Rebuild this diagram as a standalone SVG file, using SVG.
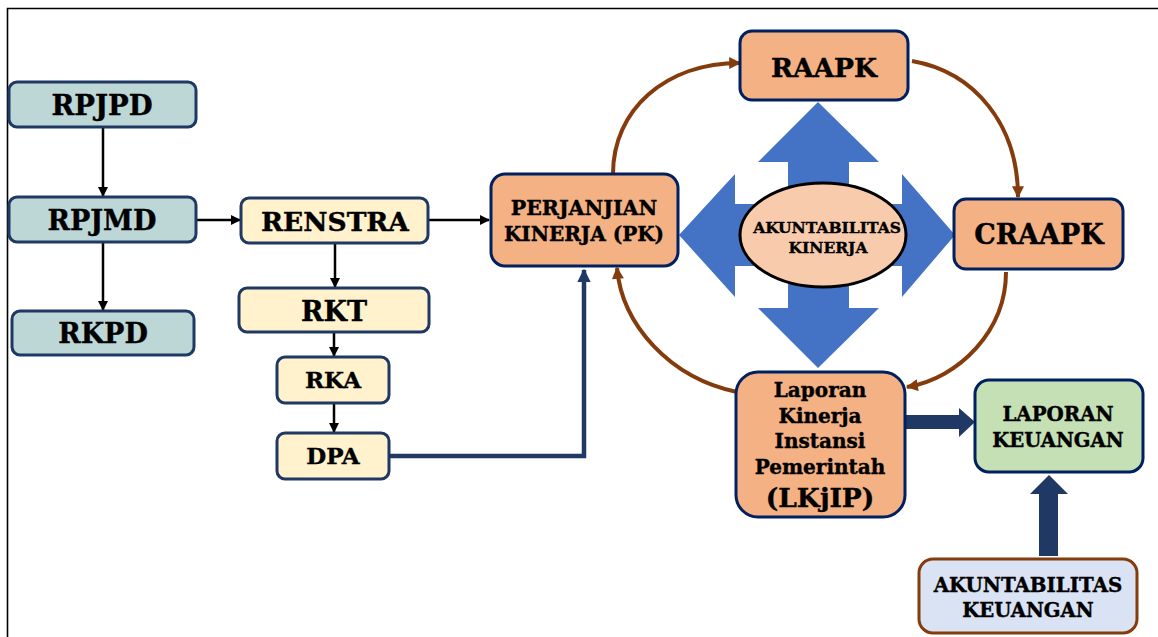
<svg xmlns="http://www.w3.org/2000/svg" width="1158" height="637" viewBox="0 0 1158 637">
<style>
text{font-family:"DejaVu Serif","Liberation Serif",serif;font-weight:bold;fill:#000;stroke:#000;stroke-width:0.4;text-anchor:middle}
.teal{fill:#BDD6D6;stroke:#1F3864;stroke-width:3}
.cream{fill:#FFF2CC;stroke:#1F3864;stroke-width:3}
.peach{fill:#F4B183;stroke:#002060;stroke-width:3}
.green{fill:#C5E0B4;stroke:#002060;stroke-width:3}
.blue{fill:#DAE3F3;stroke:#843C0C;stroke-width:3}
.blk{stroke:#000;stroke-width:2.5;fill:none;marker-end:url(#ab)}
.brn{stroke:#843C0C;stroke-width:4;fill:none;marker-end:url(#ar)}
</style>
<defs>
<marker id="ab" viewBox="0 0 10 10" refX="9" refY="5" markerWidth="4" markerHeight="4" markerUnits="strokeWidth" orient="auto"><path d="M0,0 L10,5 L0,10 Z" fill="#000"/></marker>
<marker id="ar" viewBox="0 0 10 10" refX="9" refY="5" markerWidth="3.2" markerHeight="3" markerUnits="strokeWidth" orient="auto"><path d="M0,0 L10,5 L0,10 Z" fill="#843C0C"/></marker>
<marker id="an" viewBox="0 0 10 10" refX="9" refY="5" markerWidth="3" markerHeight="3" markerUnits="strokeWidth" orient="auto"><path d="M0,0 L10,5 L0,10 Z" fill="#1F3864"/></marker>
</defs>
<rect width="1158" height="637" fill="#fff"/>
<path d="M7.5,637 V8.5 H1158" fill="none" stroke="#000" stroke-width="1.6"/>

<g id="connectors">
<path class="blk" d="M103,127 V196"/>
<path class="blk" d="M103,242 V310"/>
<path class="blk" d="M196,220 H240"/>
<path class="blk" d="M335,243 V287"/>
<path class="blk" d="M334,332 V356"/>
<path class="blk" d="M334,403 V432"/>
<path class="blk" d="M428,220 H489"/>
<path d="M389,456 H584 V270" fill="none" stroke="#1F3864" stroke-width="4.5" marker-end="url(#an)"/>
<path class="brn" d="M613,174 C613,110 665,63 740,63"/>
<path class="brn" d="M912,61 C975,72 1018,125 1018,197"/>
<path class="brn" d="M1006,272 C1006,330 960,378 907,387"/>
<path class="brn" d="M737,392 C670,378 622,325 617,268"/>
<polygon points="905,415 959,415 959,408 975,422 959,437 959,429 905,429" fill="#203864"/>
<polygon points="1039,556 1039,494 1030,494 1049,475 1068,494 1058,494 1058,556" fill="#203864"/>
</g>

<g id="quad-arrow">
<polygon points="818,102 879,162 849,162 849,204 902,204 902,174 955,235 902,297 902,266 849,266 849,308 879,308 818,368 758,308 788,308 788,266 735,266 735,297 679,235 735,174 735,204 788,204 788,162 758,162" fill="#4472C4"/>
</g>

<g id="rpjpd"><rect class="teal" x="9" y="82" width="187" height="45" rx="8"/><text x="102" y="115" font-size="27.5">RPJPD</text></g>
<g id="rpjmd"><rect class="teal" x="9" y="197" width="187" height="45" rx="8"/><text x="102" y="230" font-size="27">RPJMD</text></g>
<g id="rkpd"><rect class="teal" x="12" y="311" width="182" height="44" rx="8"/><text x="103" y="343" font-size="27">RKPD</text></g>
<g id="renstra"><rect class="cream" x="241" y="198" width="187" height="45" rx="8"/><text x="335" y="231" font-size="26.5">RENSTRA</text></g>
<g id="rkt"><rect class="cream" x="239" y="288" width="190" height="44" rx="8"/><text x="334" y="321" font-size="27">RKT</text></g>
<g id="rka"><rect class="cream" x="277" y="357" width="112" height="46" rx="8"/><text x="333" y="388" font-size="23">RKA</text></g>
<g id="dpa"><rect class="cream" x="277" y="433" width="112" height="46" rx="8"/><text x="333" y="464" font-size="23">DPA</text></g>

<g id="pk"><rect class="peach" x="491" y="174" width="187" height="92" rx="14"/><text x="584" y="215" font-size="20.5">PERJANJIAN</text><text x="584" y="241" font-size="20">KINERJA (PK)</text></g>
<g id="raapk"><rect class="peach" x="740" y="31" width="168" height="69" rx="12"/><text x="824" y="77" font-size="26.5">RAAPK</text></g>
<g id="craapk"><rect class="peach" x="954" y="199" width="169" height="70" rx="12"/><text x="1039" y="244" font-size="27">CRAAPK</text></g>
<g id="akuntabilitas-kinerja"><ellipse cx="823" cy="235" rx="83" ry="52" fill="#F8CBAD" stroke="#000" stroke-width="3"/><text x="827" y="233" font-size="15.5">AKUNTABILITAS</text><text x="828" y="253" font-size="15.5">KINERJA</text></g>
<g id="lkjip"><rect class="peach" x="736" y="372" width="169" height="145" rx="22"/><text x="820" y="397" font-size="20">Laporan</text><text x="820" y="423" font-size="20">Kinerja</text><text x="820" y="448" font-size="20">Instansi</text><text x="820" y="474" font-size="20">Pemerintah</text><text x="820" y="507" font-size="26.5">(LKjIP)</text></g>
<g id="laporan-keuangan"><rect class="green" x="975" y="380" width="168" height="92" rx="14"/><text x="1058" y="421" font-size="19.8">LAPORAN</text><text x="1058" y="447" font-size="19.6">KEUANGAN</text></g>
<g id="akuntabilitas-keuangan"><rect class="blue" x="919" y="559" width="218" height="74" rx="14"/><text x="1028" y="592" font-size="19.8">AKUNTABILITAS</text><text x="1028" y="617" font-size="19.6">KEUANGAN</text></g>
</svg>
